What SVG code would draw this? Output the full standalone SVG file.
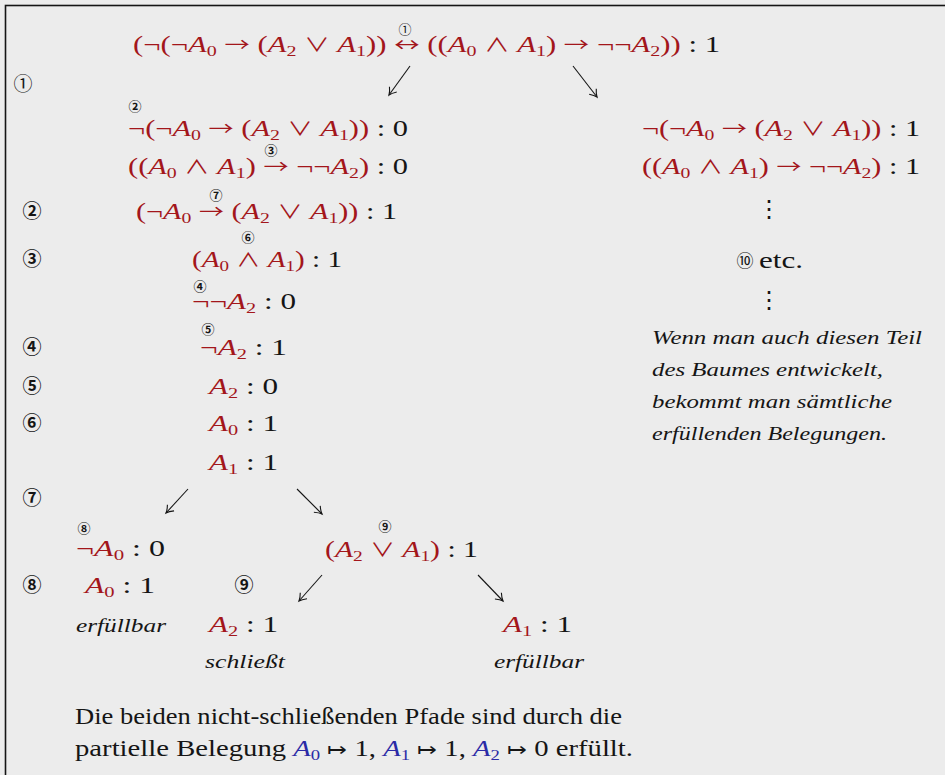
<svg xmlns="http://www.w3.org/2000/svg" width="945" height="775" viewBox="0 0 945 775" font-family="Liberation Serif, serif">
<defs>
<style>
.m{font-family:"Liberation Serif",serif;font-size:23px;fill:#151515}
.r{fill:#a3161b}
.i{font-style:italic}
.s{font-size:15px;font-style:normal}
.o{font-family:"Noto Sans CJK JP",sans-serif;font-size:19px;font-style:normal}
.c{font-family:"Noto Sans CJK JP",sans-serif;font-size:19px;font-weight:bold;fill:#151515;text-anchor:middle}
.cs{font-family:"Noto Sans CJK JP",sans-serif;font-size:13px;font-weight:bold;fill:#151515;text-anchor:middle}
.it{font-family:"Liberation Serif",serif;font-style:italic;font-size:19px;fill:#151515}
.b{fill:#2a2aa6}
.dots{font-family:"Liberation Serif","DejaVu Serif",serif;font-size:24px;fill:#151515;text-anchor:middle}
.arr{stroke:#151515;stroke-width:1.1;fill:none}
</style>
<marker id="ah" markerWidth="12" markerHeight="12" refX="0" refY="0" viewBox="-8 -6 10 12" orient="auto" markerUnits="userSpaceOnUse">
<path d="M-7,-4.5 Q-3,-1 0,0 Q-3,1 -7,4.5" stroke="#151515" stroke-width="1.1" fill="none"/>
</marker>
</defs>
<rect x="0" y="0" width="945" height="775" fill="#ececec"/>
<rect x="5.5" y="5.5" width="960" height="800" fill="none" stroke="#151515" stroke-width="1.6"/>

<g id="connectors">
<line class="arr" x1="410" y1="66" x2="389" y2="95" marker-end="url(#ah)"/>
<line class="arr" x1="573" y1="66" x2="597" y2="97" marker-end="url(#ah)"/>
<line class="arr" x1="188" y1="489" x2="166" y2="513" marker-end="url(#ah)"/>
<line class="arr" x1="297" y1="489" x2="322" y2="514" marker-end="url(#ah)"/>
<line class="arr" x1="322" y1="575" x2="299" y2="601" marker-end="url(#ah)"/>
<line class="arr" x1="478" y1="575" x2="503" y2="601" marker-end="url(#ah)"/>
</g>

<g id="steps">
<text class="c" style="font-weight:normal" x="23" y="91">①</text>
<text class="c" x="32" y="218">②</text>
<text class="c" x="32" y="266">③</text>
<text class="c" x="32" y="354">④</text>
<text class="c" x="32" y="393">⑤</text>
<text class="c" x="32" y="430">⑥</text>
<text class="c" x="32" y="505">⑦</text>
<text class="c" x="32" y="592">⑧</text>
<text class="c" x="244" y="592">⑨</text>
</g>

<g id="root">
<text class="m" x="133" y="52" textLength="587" lengthAdjust="spacingAndGlyphs"><tspan class="r">(¬(¬<tspan class="i">A</tspan><tspan class="s" dy="4">0</tspan><tspan dy="-4"> <tspan class="o">→</tspan> (</tspan><tspan class="i">A</tspan><tspan class="s" dy="4">2</tspan><tspan dy="-4"> <tspan class="o">∨</tspan> </tspan><tspan class="i">A</tspan><tspan class="s" dy="4">1</tspan><tspan dy="-4">)) <tspan class="o">↔</tspan> ((</tspan><tspan class="i">A</tspan><tspan class="s" dy="4">0</tspan><tspan dy="-4"> <tspan class="o">∧</tspan> </tspan><tspan class="i">A</tspan><tspan class="s" dy="4">1</tspan><tspan dy="-4">) <tspan class="o">→</tspan> ¬¬</tspan><tspan class="i">A</tspan><tspan class="s" dy="4">2</tspan><tspan dy="-4">))</tspan></tspan> : 1</text>
<text class="cs" style="font-weight:normal" x="405" y="34">①</text>
</g>

<g id="n-left-1">
<text class="m" x="128" y="136" textLength="280" lengthAdjust="spacingAndGlyphs"><tspan class="r">¬(¬<tspan class="i">A</tspan><tspan class="s" dy="4">0</tspan><tspan dy="-4"> <tspan class="o">→</tspan> (</tspan><tspan class="i">A</tspan><tspan class="s" dy="4">2</tspan><tspan dy="-4"> <tspan class="o">∨</tspan> </tspan><tspan class="i">A</tspan><tspan class="s" dy="4">1</tspan><tspan dy="-4">))</tspan></tspan> : 0</text>
<text class="cs" x="135" y="111">②</text>
</g>

<g id="n-left-2">
<text class="m" x="128" y="174" textLength="280" lengthAdjust="spacingAndGlyphs"><tspan class="r">((<tspan class="i">A</tspan><tspan class="s" dy="4">0</tspan><tspan dy="-4"> <tspan class="o">∧</tspan> </tspan><tspan class="i">A</tspan><tspan class="s" dy="4">1</tspan><tspan dy="-4">) <tspan class="o">→</tspan> ¬¬</tspan><tspan class="i">A</tspan><tspan class="s" dy="4">2</tspan><tspan dy="-4">)</tspan></tspan> : 0</text>
<text class="cs" x="271" y="155">③</text>
</g>

<g id="n-left-3">
<text class="m" x="136" y="219" textLength="261" lengthAdjust="spacingAndGlyphs"><tspan class="r">(¬<tspan class="i">A</tspan><tspan class="s" dy="4">0</tspan><tspan dy="-4"> <tspan class="o">→</tspan> (</tspan><tspan class="i">A</tspan><tspan class="s" dy="4">2</tspan><tspan dy="-4"> <tspan class="o">∨</tspan> </tspan><tspan class="i">A</tspan><tspan class="s" dy="4">1</tspan><tspan dy="-4">))</tspan></tspan> : 1</text>
<text class="cs" x="216" y="200">⑦</text>
</g>

<g id="n-left-4">
<text class="m" x="192" y="267" textLength="150" lengthAdjust="spacingAndGlyphs"><tspan class="r">(<tspan class="i">A</tspan><tspan class="s" dy="4">0</tspan><tspan dy="-4"> <tspan class="o">∧</tspan> </tspan><tspan class="i">A</tspan><tspan class="s" dy="4">1</tspan><tspan dy="-4">)</tspan></tspan> : 1</text>
<text class="cs" x="248" y="242">⑥</text>
</g>

<g id="n-left-5">
<text class="m" x="192" y="309" textLength="104" lengthAdjust="spacingAndGlyphs"><tspan class="r">¬¬<tspan class="i">A</tspan><tspan class="s" dy="4">2</tspan></tspan><tspan dy="-4"> : 0</tspan></text>
<text class="cs" x="200" y="291">④</text>
</g>

<g id="n-left-6">
<text class="m" x="200" y="355" textLength="87" lengthAdjust="spacingAndGlyphs"><tspan class="r">¬<tspan class="i">A</tspan><tspan class="s" dy="4">2</tspan></tspan><tspan dy="-4"> : 1</tspan></text>
<text class="cs" x="208" y="334">⑤</text>
</g>

<g id="n-left-7">
<text class="m" x="209" y="394" textLength="69" lengthAdjust="spacingAndGlyphs"><tspan class="r i">A</tspan><tspan class="r s" dy="4">2</tspan><tspan dy="-4"> : 0</tspan></text>
</g>
<g id="n-left-8">
<text class="m" x="209" y="431" textLength="69" lengthAdjust="spacingAndGlyphs"><tspan class="r i">A</tspan><tspan class="r s" dy="4">0</tspan><tspan dy="-4"> : 1</tspan></text>
</g>
<g id="n-left-9">
<text class="m" x="209" y="470" textLength="69" lengthAdjust="spacingAndGlyphs"><tspan class="r i">A</tspan><tspan class="r s" dy="4">1</tspan><tspan dy="-4"> : 1</tspan></text>
</g>

<g id="n-neg-a0">
<text class="m" x="76" y="556" textLength="89" lengthAdjust="spacingAndGlyphs"><tspan class="r">¬<tspan class="i">A</tspan><tspan class="s" dy="4">0</tspan></tspan><tspan dy="-4"> : 0</tspan></text>
<text class="cs" x="84" y="533">⑧</text>
</g>

<g id="n-or">
<text class="m" x="325" y="557" textLength="153" lengthAdjust="spacingAndGlyphs"><tspan class="r">(<tspan class="i">A</tspan><tspan class="s" dy="4">2</tspan><tspan dy="-4"> <tspan class="o">∨</tspan> </tspan><tspan class="i">A</tspan><tspan class="s" dy="4">1</tspan><tspan dy="-4">)</tspan></tspan> : 1</text>
<text class="cs" x="385" y="531">⑨</text>
</g>

<g id="n-a0">
<text class="m" x="85" y="593" textLength="70" lengthAdjust="spacingAndGlyphs"><tspan class="r i">A</tspan><tspan class="r s" dy="4">0</tspan><tspan dy="-4"> : 1</tspan></text>
<text class="it" x="76" y="632" textLength="90" lengthAdjust="spacingAndGlyphs">erfüllbar</text>
</g>

<g id="n-a2">
<text class="m" x="209" y="632" textLength="69" lengthAdjust="spacingAndGlyphs"><tspan class="r i">A</tspan><tspan class="r s" dy="4">2</tspan><tspan dy="-4"> : 1</tspan></text>
<text class="it" x="205" y="668" textLength="80" lengthAdjust="spacingAndGlyphs">schließt</text>
</g>

<g id="n-a1">
<text class="m" x="503" y="632" textLength="69" lengthAdjust="spacingAndGlyphs"><tspan class="r i">A</tspan><tspan class="r s" dy="4">1</tspan><tspan dy="-4"> : 1</tspan></text>
<text class="it" x="494" y="668" textLength="90" lengthAdjust="spacingAndGlyphs">erfüllbar</text>
</g>

<g id="n-right">
<text class="m" x="642" y="136" textLength="278" lengthAdjust="spacingAndGlyphs"><tspan class="r">¬(¬<tspan class="i">A</tspan><tspan class="s" dy="4">0</tspan><tspan dy="-4"> <tspan class="o">→</tspan> (</tspan><tspan class="i">A</tspan><tspan class="s" dy="4">2</tspan><tspan dy="-4"> <tspan class="o">∨</tspan> </tspan><tspan class="i">A</tspan><tspan class="s" dy="4">1</tspan><tspan dy="-4">))</tspan></tspan> : 1</text>
<text class="m" x="642" y="174" textLength="278" lengthAdjust="spacingAndGlyphs"><tspan class="r">((<tspan class="i">A</tspan><tspan class="s" dy="4">0</tspan><tspan dy="-4"> <tspan class="o">∧</tspan> </tspan><tspan class="i">A</tspan><tspan class="s" dy="4">1</tspan><tspan dy="-4">) <tspan class="o">→</tspan> ¬¬</tspan><tspan class="i">A</tspan><tspan class="s" dy="4">2</tspan><tspan dy="-4">)</tspan></tspan> : 1</text>
<text class="dots" x="769" y="217">⋮</text>
<text class="c" style="font-weight:normal;font-size:17px" x="745" y="267">⑩</text>
<text class="m" x="759" y="268" textLength="44" lengthAdjust="spacingAndGlyphs">etc.</text>
<text class="dots" x="769" y="308">⋮</text>
<text class="it" x="652" y="344" textLength="270" lengthAdjust="spacingAndGlyphs">Wenn man auch diesen Teil</text>
<text class="it" x="652" y="376" textLength="231" lengthAdjust="spacingAndGlyphs">des Baumes entwickelt,</text>
<text class="it" x="652" y="408" textLength="240" lengthAdjust="spacingAndGlyphs">bekommt man sämtliche</text>
<text class="it" x="652" y="440" textLength="235" lengthAdjust="spacingAndGlyphs">erfüllenden Belegungen.</text>
</g>

<g id="conclusion">
<text class="m" x="75" y="724" textLength="547" lengthAdjust="spacingAndGlyphs">Die beiden nicht-schließenden Pfade sind durch die</text>
<text class="m" x="75" y="756" textLength="558" lengthAdjust="spacingAndGlyphs">partielle Belegung <tspan class="b i">A</tspan><tspan class="b s" dy="4">0</tspan><tspan dy="-4"> <tspan class="o">↦</tspan> 1, </tspan><tspan class="b i">A</tspan><tspan class="b s" dy="4">1</tspan><tspan dy="-4"> <tspan class="o">↦</tspan> 1, </tspan><tspan class="b i">A</tspan><tspan class="b s" dy="4">2</tspan><tspan dy="-4"> <tspan class="o">↦</tspan> 0 erfüllt.</tspan></text>
</g>
</svg>
